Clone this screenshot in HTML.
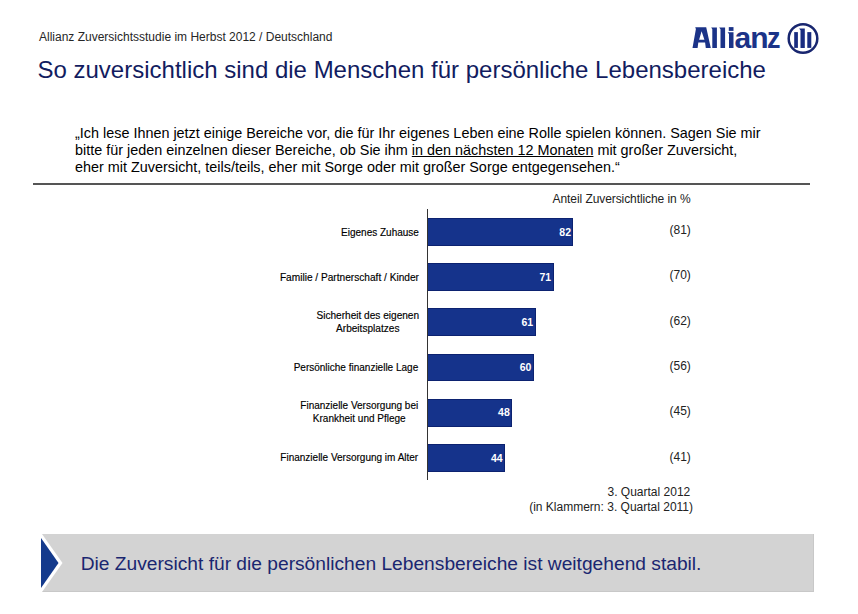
<!DOCTYPE html>
<html><head><meta charset="utf-8">
<style>
html,body{margin:0;padding:0;background:#fff;}
body{width:858px;height:614px;position:relative;overflow:hidden;font-family:"Liberation Sans",sans-serif;}
.a{position:absolute;white-space:nowrap;}
#sub{left:39px;top:30.5px;font-size:12px;line-height:12px;color:#262626;}
#title{left:37.5px;top:57.7px;font-size:24px;line-height:24px;color:#121c60;}
#q{left:75px;top:125px;font-size:14.4px;line-height:17.1px;color:#000;}
#q u{text-decoration:underline;text-underline-offset:1px;}
#rule{left:33px;top:183px;width:777px;height:2px;background:#555;}
.lbl{position:absolute;font-size:10px;line-height:13px;color:#000;-webkit-text-stroke:0.15px #000;text-align:center;white-space:nowrap;}
.bar{position:absolute;left:428px;height:27.8px;background:#15338b;box-sizing:border-box;border:1px solid #0c2270;border-left:none;}
.val{position:absolute;right:1.4px;top:-1.5px;height:28px;line-height:28px;font-size:10.5px;font-weight:bold;color:#fff;}
.prev{position:absolute;font-size:12px;line-height:12px;color:#222;}
#axis{left:427px;top:209px;width:1px;height:271px;background:#333;}
#box{left:42px;top:534px;width:772px;height:58px;background:#d3d3d3;box-sizing:border-box;border-right:1px solid #c8c8c8;border-bottom:1px solid #c8c8c8;}
#concl{left:80.7px;top:553.6px;font-size:19.2px;line-height:19px;color:#1a2670;}
</style></head><body>
<div id="sub" class="a">Allianz Zuversichtsstudie im Herbst 2012 / Deutschland</div>
<div id="title" class="a">So zuversichtlich sind die Menschen für persönliche Lebensbereiche</div>
<svg class="a" style="left:685px;top:20px" width="100" height="35" viewBox="685 20 100 35">
  <g fill="#1b3388">
  <path d="M692.5 48 L695.9 29 L695.2 27.2 L706.2 27.2 L710.8 48 L705.8 48 L705.1 42.6 L698.3 42.6 L697.6 48 Z M699.1 39.8 L704.4 39.8 L701.6 31.3 Z" fill-rule="evenodd"/>
  <path d="M712.3 47.9 V29.2 L711.2 27.4 H716.9 V47.9 Z"/>
  <path d="M720.5 47.9 V29.2 L719.2 27.4 H725.1 V47.9 Z"/>
  <rect x="728.8" y="27.1" width="4.7" height="3.8"/>
  <path d="M729 48 V34 L727.6 32.3 H733.5 V48 Z"/>
  <text x="734.6" y="48" font-family="Liberation Sans" font-weight="bold" font-size="30">a</text>
  <text x="750.2" y="48" font-family="Liberation Sans" font-weight="bold" font-size="30">n</text>
  <text x="767" y="48" font-family="Liberation Sans" font-weight="bold" font-size="30" transform="translate(767 0) scale(0.9 1) translate(-767 0)">z</text>
  </g>
</svg>
<svg class="a" style="left:785px;top:21px" width="36" height="36" viewBox="785 21 36 36">
  <circle cx="803" cy="38.5" r="14.3" fill="none" stroke="#18266f" stroke-width="2.5"/>
  <rect x="794.2" y="32.1" width="3.7" height="15.8" fill="#192c80"/>
  <path d="M800.5 47.9 V30.2 L799.1 28.5 H804.8 V47.9 Z" fill="#192c80"/>
  <rect x="807.3" y="32.1" width="4" height="15.8" fill="#192c80"/>
</svg>
<div id="q" class="a">„Ich lese Ihnen jetzt einige Bereiche vor, die für Ihr eigenes Leben eine Rolle spielen können. Sagen Sie mir<br>bitte für jeden einzelnen dieser Bereiche, ob Sie ihm <u>in den nächsten 12 Monaten</u> mit großer Zuversicht,<br>eher mit Zuversicht, teils/teils, eher mit Sorge oder mit großer Sorge entgegensehen.“</div>
<div id="rule" class="a"></div>

<div class="prev" style="left:552.6px;top:192.6px;font-size:12px;letter-spacing:-0.08px">Anteil Zuversichtliche in %</div>

<div id="axis" class="a"></div>

<div class="bar" style="top:218.0px;width:145.4px"><span class="val">82</span></div>
<div class="bar" style="top:263.2px;width:125.6px"><span class="val">71</span></div>
<div class="bar" style="top:308.4px;width:107.6px"><span class="val">61</span></div>
<div class="bar" style="top:353.6px;width:105.8px"><span class="val">60</span></div>
<div class="bar" style="top:398.8px;width:84.2px"><span class="val">48</span></div>
<div class="bar" style="top:444.0px;width:77.0px"><span class="val">44</span></div>

<div class="lbl" style="right:439.1px;top:226px">Eigenes Zuhause</div>
<div class="lbl" style="right:439.1px;top:271px;font-size:10.15px">Familie / Partnerschaft / Kinder</div>
<div class="lbl" style="right:438.9px;top:309.3px;font-size:10.1px">Sicherheit des eigenen<br>Arbeitsplatzes</div>
<div class="lbl" style="right:439.8px;top:361.2px">Persönliche finanzielle Lage</div>
<div class="lbl" style="right:439.8px;top:400.4px;line-height:12.6px">Finanzielle Versorgung bei<br>Krankheit und Pflege</div>
<div class="lbl" style="right:439.8px;top:451px">Finanzielle Versorgung im Alter</div>

<div class="prev" style="left:669.5px;top:224.2px">(81)</div>
<div class="prev" style="left:669.5px;top:269.2px">(70)</div>
<div class="prev" style="left:669.5px;top:314.7px">(62)</div>
<div class="prev" style="left:669.5px;top:359.7px">(56)</div>
<div class="prev" style="left:669.5px;top:404.7px">(45)</div>
<div class="prev" style="left:669.5px;top:450.7px">(41)</div>

<div class="prev" style="left:607.5px;top:486px">3. Quartal 2012</div>
<div class="prev" style="left:529.2px;top:500.5px">(in Klammern: 3. Quartal 2011)</div>

<div id="box" class="a"></div>
<svg class="a" style="left:38px;top:530px" width="30" height="66" viewBox="38 530 30 66">
  <polygon points="42,534 62.5,563 42,592" fill="#fff"/>
  <polygon points="41,538 58.5,563 41,588" fill="#143a8c"/>
</svg>
<div id="concl" class="a">Die Zuversicht für die persönlichen Lebensbereiche ist weitgehend stabil.</div>
</body></html>
